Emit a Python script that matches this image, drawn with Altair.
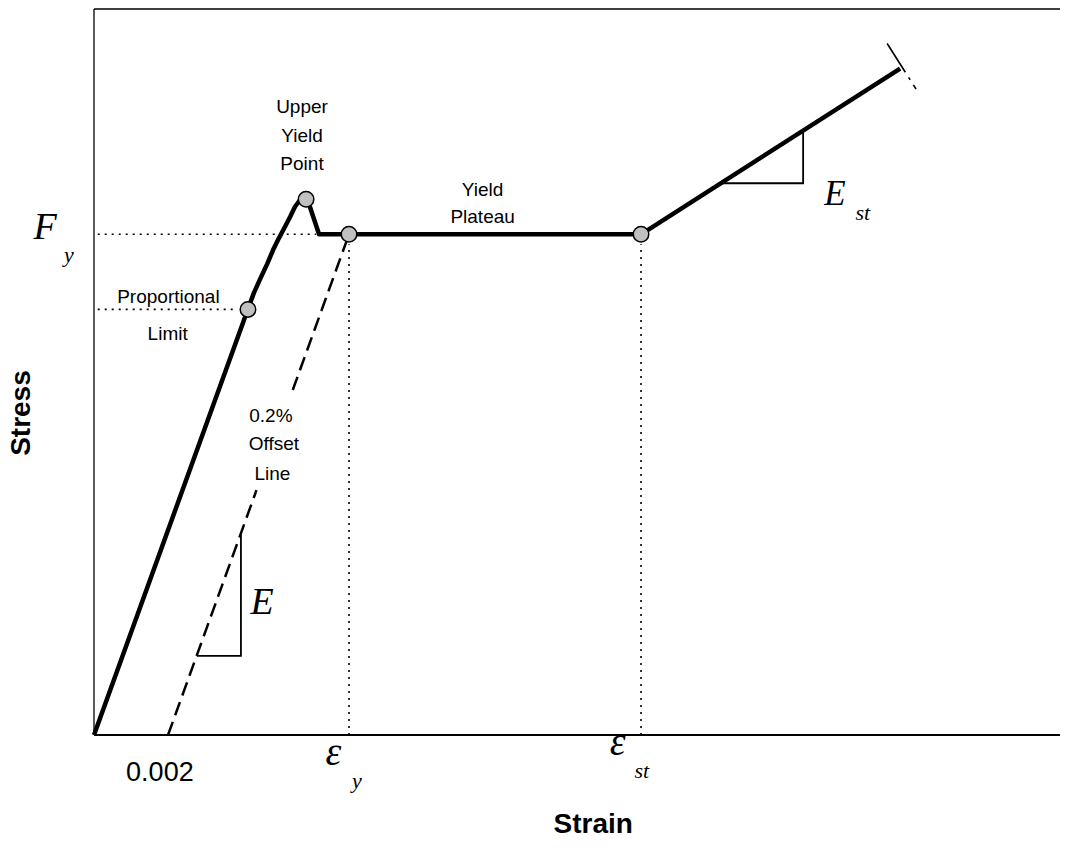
import altair as alt
import pandas as pd

# ---- Data (strain in arbitrary units, stress in % of Fy) ----
X_MAX = 26.1
Y_MAX = 145.0

curve_strain = [0.0, 4.16, 4.32, 4.49, 4.68, 4.84, 5.00, 5.16, 5.30, 5.43, 5.57, 5.73,
                6.08, 6.89, 14.78, 21.78]
curve_stress = [0.0, 85.1, 88.3, 91.1, 94.1, 96.9, 99.3, 101.5, 103.5, 105.5, 106.9, 107.8,
                100.0, 100.0, 100.0, 133.1]

offset_seg = [0, 0, 1, 1]
offset_strain = [2.0, 4.39, 5.37, 6.89]
offset_stress = [0.0, 48.9, 68.9, 100.0]

dot_seg = [0, 0, 1, 1, 2, 2, 3, 3]
dot_strain = [0.1, 6.0, 0.1, 3.85, 6.89, 6.89, 14.78, 14.78]
dot_stress = [100.0, 100.0, 85.0, 85.0, 0.0, 98.0, 0.0, 98.0]

tri_seg = [0, 0, 0, 1, 1, 1]
tri_strain = [2.78, 3.97, 3.97, 16.94, 19.16, 19.16]
tri_stress = [15.8, 15.8, 40.0, 110.2, 110.2, 120.5]

break_strain = [21.43, 22.27]
break_stress = [138.1, 128.3]

pt_strain = [4.16, 5.73, 6.89, 14.78]
pt_stress = [85.0, 107.0, 100.0, 100.0]

frame_x = [0.0, 0.0, 0.0]
frame_x2 = [0.0, X_MAX, X_MAX]
frame_y = [0.0, Y_MAX, 0.0]
frame_y2 = [Y_MAX, Y_MAX, 0.0]
frame_w = [1.3, 1.7, 2.0]

lab_text = ["Upper", "Yield", "Point", "Yield", "Plateau", "Proportional", "Limit",
            "0.2%", "Offset", "Line"]
lab_x = [5.62, 5.62, 5.62, 10.5, 10.5, 2.01, 1.99, 4.78, 4.86, 4.82]
lab_y = [124.2, 118.5, 112.8, 107.6, 102.3, 86.3, 78.9, 62.6, 56.9, 51.0]

tick_text = ["0.002"]
tick_x = [1.78]
tick_y = [-9.1]

sym_text = ["E", "F", "E", "\u03b5", "\u03b5"]
sym_x = [4.54, -1.32, 20.02, 6.47, 14.15]
sym_y = [24.1, 99.0, 105.9, -6.0, -4.0]
sym_size = [38, 38, 35, 40, 40]

sub_text = ["y", "st", "y", "st"]
sub_x = [-0.68, 20.77, 7.10, 14.80]
sub_y = [94.5, 102.9, -10.6, -8.6]

title_text = ["Strain"]
title_x = [13.49]
title_y = [-19.6]

ytitle_text = ["Stress"]
ytitle_x = [-1.95]
ytitle_y = [64.3]

# ---- Tables ----
curve = pd.DataFrame({"strain": curve_strain, "stress": curve_stress,
                      "i": range(len(curve_strain))})
offset = pd.DataFrame({"strain": offset_strain, "stress": offset_stress,
                       "seg": offset_seg, "i": range(len(offset_strain))})
dots = pd.DataFrame({"strain": dot_strain, "stress": dot_stress,
                     "seg": dot_seg, "i": range(len(dot_strain))})
tri = pd.DataFrame({"strain": tri_strain, "stress": tri_stress,
                    "seg": tri_seg, "i": range(len(tri_strain))})
brk = pd.DataFrame({"strain": break_strain, "stress": break_stress, "i": [0, 1]})
pts = pd.DataFrame({"strain": pt_strain, "stress": pt_stress})
frame = pd.DataFrame({"x": frame_x, "x2": frame_x2, "y": frame_y, "y2": frame_y2,
                      "w": frame_w})
labs = pd.DataFrame({"t": lab_text, "strain": lab_x, "stress": lab_y})
ticks = pd.DataFrame({"t": tick_text, "strain": tick_x, "stress": tick_y})
syms = pd.DataFrame({"t": sym_text, "strain": sym_x, "stress": sym_y, "s": sym_size})
subs = pd.DataFrame({"t": sub_text, "strain": sub_x, "stress": sub_y})
xt = pd.DataFrame({"t": title_text, "strain": title_x, "stress": title_y})
yt = pd.DataFrame({"t": ytitle_text, "strain": ytitle_x, "stress": ytitle_y})

xs = alt.Scale(domain=[0, X_MAX], nice=False, zero=False)
ys = alt.Scale(domain=[0, Y_MAX], nice=False, zero=False)
X = alt.X("strain:Q", scale=xs, axis=None)
Y = alt.Y("stress:Q", scale=ys, axis=None)

SANS = "Liberation Sans"
SERIF = "Liberation Serif"

frame_l = alt.Chart(frame).mark_rule(color="black").encode(
    x=alt.X("x:Q", scale=xs, axis=None), x2="x2:Q",
    y=alt.Y("y:Q", scale=ys, axis=None), y2="y2:Q",
    strokeWidth=alt.StrokeWidth("w:Q", scale=None),
)

dot_l = alt.Chart(dots).mark_line(color="black", strokeWidth=1.6, strokeDash=[2, 5]).encode(
    x=X, y=Y, detail="seg:N", order="i:Q")

offset_l = alt.Chart(offset).mark_line(color="black", strokeWidth=2.5, strokeDash=[14, 7]).encode(
    x=X, y=Y, detail="seg:N", order="i:Q")

tri_l = alt.Chart(tri).mark_line(color="black", strokeWidth=1.8).encode(
    x=X, y=Y, detail="seg:N", order="i:Q")

brk_l = alt.Chart(brk).mark_line(color="black", strokeWidth=1.6,
                                 strokeDash=[34, 6, 3, 6, 5, 60]).encode(
    x=X, y=Y, order="i:Q")

curve_l = alt.Chart(curve).mark_line(color="black", strokeWidth=4.5, strokeJoin="round").encode(
    x=X, y=Y, order="i:Q")

pts_l = alt.Chart(pts).mark_point(shape="circle", filled=True, fill="#c0c0c0",
                                  stroke="black", strokeWidth=1.5, size=240,
                                  opacity=1).encode(x=X, y=Y)

labs_l = alt.Chart(labs).mark_text(font=SANS, fontSize=19, color="black",
                                   align="center", baseline="alphabetic").encode(
    x=X, y=Y, text="t:N")

ticks_l = alt.Chart(ticks).mark_text(font=SANS, fontSize=27, color="black",
                                     align="center", baseline="alphabetic").encode(
    x=X, y=Y, text="t:N")

syms_l = alt.Chart(syms).mark_text(font=SERIF, fontStyle="italic", color="black",
                                   align="center", baseline="alphabetic").encode(
    x=X, y=Y, text="t:N", size=alt.Size("s:Q", scale=None))

subs_l = alt.Chart(subs).mark_text(font=SERIF, fontStyle="italic", fontSize=22,
                                   color="black", align="center",
                                   baseline="alphabetic").encode(
    x=X, y=Y, text="t:N")

xt_l = alt.Chart(xt).mark_text(font=SANS, fontWeight="bold", fontSize=28, color="black",
                               align="center", baseline="alphabetic").encode(
    x=X, y=Y, text="t:N")

yt_l = alt.Chart(yt).mark_text(font=SANS, fontWeight="bold", fontSize=28, color="black",
                               align="center", baseline="middle", angle=270).encode(
    x=X, y=Y, text="t:N")

chart = alt.layer(
    frame_l, dot_l, offset_l, tri_l, brk_l, curve_l, pts_l,
    labs_l, ticks_l, syms_l, subs_l, xt_l, yt_l,
).properties(
    width=966, height=726,
    padding={"left": 86, "top": 1, "right": 1, "bottom": 105},
    autosize=alt.AutoSizeParams(type="none"),
    background="white",
).configure_view(stroke=None)

chart.save("out.html", embed_options={"renderer": "svg", "actions": False})
